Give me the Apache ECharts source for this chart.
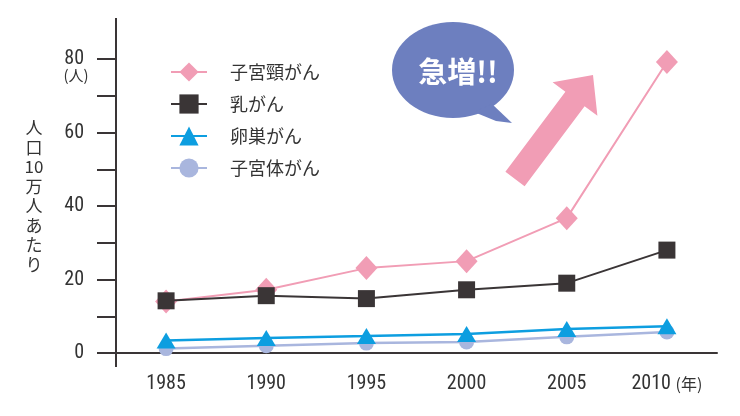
<!DOCTYPE html>
<html><head><meta charset="utf-8">
<script src="https://cdn.jsdelivr.net/npm/echarts@6/dist/echarts.min.js"></script>
<style>html,body{margin:0;padding:0;background:#fff}#c{width:740px;height:416px}</style>
</head><body><div id="c"></div>
<script>
const years = ['1985','1990','1995','2000','2005','2010'];
const cervical = [14.0, 17.2, 23.1, 25.0, 36.7, 79.2];
const breast = [14.2, 15.6, 14.8, 17.2, 19.0, 28.0];
const ovarian = [3.4, 4.1, 4.6, 5.2, 6.5, 7.3];
const uterine = [1.2, 2.0, 2.7, 3.0, 4.4, 5.7];
const names = ['子宮頸がん','乳がん','卵巣がん','子宮体がん'];
const yTicks = [0, 20, 40, 60, 80];

const NUM = '"Roboto Condensed","Liberation Sans Narrow",Roboto,sans-serif';
const JP = '"Noto Sans CJK JP","Noto Sans",sans-serif';
const axisColor = '#3a3536';

const chart = echarts.init(document.getElementById('c'));
const arrow = (function(){
  const T=[515,179], tip=[593,75];
  const dx=tip[0]-T[0], dy=tip[1]-T[1], L=Math.hypot(dx,dy);
  const d=[dx/L,dy/L], n=[-d[1],d[0]];
  const hw=12, headW=28, headL=30;
  const b=[T[0]+d[0]*(L-headL), T[1]+d[1]*(L-headL)];
  const p=(c,k)=>[c[0]+n[0]*k, c[1]+n[1]*k];
  return [p(T,hw), p(b,hw), p(b,headW), tip, p(b,-headW), p(b,-hw), p(T,-hw)];
})();

chart.setOption({
  animation:false,
  grid:{left:116,right:23,top:59,bottom:63},
  legend:{
    orient:'vertical', left:165, top:55, itemWidth:36, itemHeight:24, itemGap:8,
    data:names,
    textStyle:{fontFamily:JP,fontSize:18,color:'#333',padding:[0,0,0,18],lineHeight:24}
  },
  xAxis:{
    type:'category', data:years, boundaryGap:true, offset:13,
    axisLine:{lineStyle:{color:axisColor,width:2}},
    axisTick:{length:12,lineStyle:{color:axisColor,width:2}},
    axisLabel:{interval:0,margin:8,fontFamily:NUM,fontSize:20,color:'#333',
      formatter:(v,i)=> i===years.length-1 ? v+' {u|(年)}' : v,
      rich:{u:{fontFamily:JP,fontSize:16,color:'#333'}}}
  },
  yAxis:{
    type:'value', min:0, max:80, interval:10,
    axisLine:{show:false},
    splitLine:{show:false},
    axisTick:{show:true,length:19,lineStyle:{color:axisColor,width:2}},
    axisLabel:{margin:32,fontFamily:NUM,fontSize:20,color:'#333',
      formatter:v=> yTicks.indexOf(v)>=0 ? String(v) : ''}
  },
  series:[
    {name:names[0],type:'line',data:cervical,symbol:'diamond',symbolSize:[22,24],z:3,
      lineStyle:{color:'#f19db5',width:2},itemStyle:{color:'#f19db5'}},
    {name:names[1],type:'line',data:breast,symbol:'rect',symbolSize:17,z:4,
      lineStyle:{color:'#3a3536',width:2},itemStyle:{color:'#3a3536'}},
    {name:names[2],type:'line',data:ovarian,symbol:'triangle',symbolSize:[19,16],z:3,
      lineStyle:{color:'#0d9ee0',width:2.5},itemStyle:{color:'#0d9ee0'}},
    {name:names[3],type:'line',data:uterine,symbol:'circle',symbolSize:15,z:2,
      lineStyle:{color:'#a9b6de',width:2.5},itemStyle:{color:'#a9b6de'}}
  ],
  graphic:[
    {type:'line',shape:{x1:116,y1:18,x2:116,y2:367},style:{stroke:axisColor,lineWidth:2},z:10},
    {type:'text',x:76,y:75,style:{text:'(人)',font:'15px '+JP,fill:'#333',align:'center',verticalAlign:'middle'}},
    {type:'text',x:34,y:118,style:{text:'人\n口\n10\n万\n人\nあ\nた\nり',font:'17px '+JP,fill:'#333',
      align:'center',verticalAlign:'top',lineHeight:19.5}},
    {type:'ellipse',shape:{cx:453,cy:70,rx:61,ry:48},style:{fill:'#6d7fbf'}},
    {type:'polygon',shape:{points:[[474,112],[492,104],[512,123],[496,121]]},style:{fill:'#6d7fbf'}},
    {type:'text',x:458,y:72,style:{text:'急増!!',font:'bold 29px '+JP,fill:'#fff',align:'center',verticalAlign:'middle'}},
    {type:'polygon',shape:{points:arrow},style:{fill:'#f19db5'}}
  ]
});
</script></body></html>
